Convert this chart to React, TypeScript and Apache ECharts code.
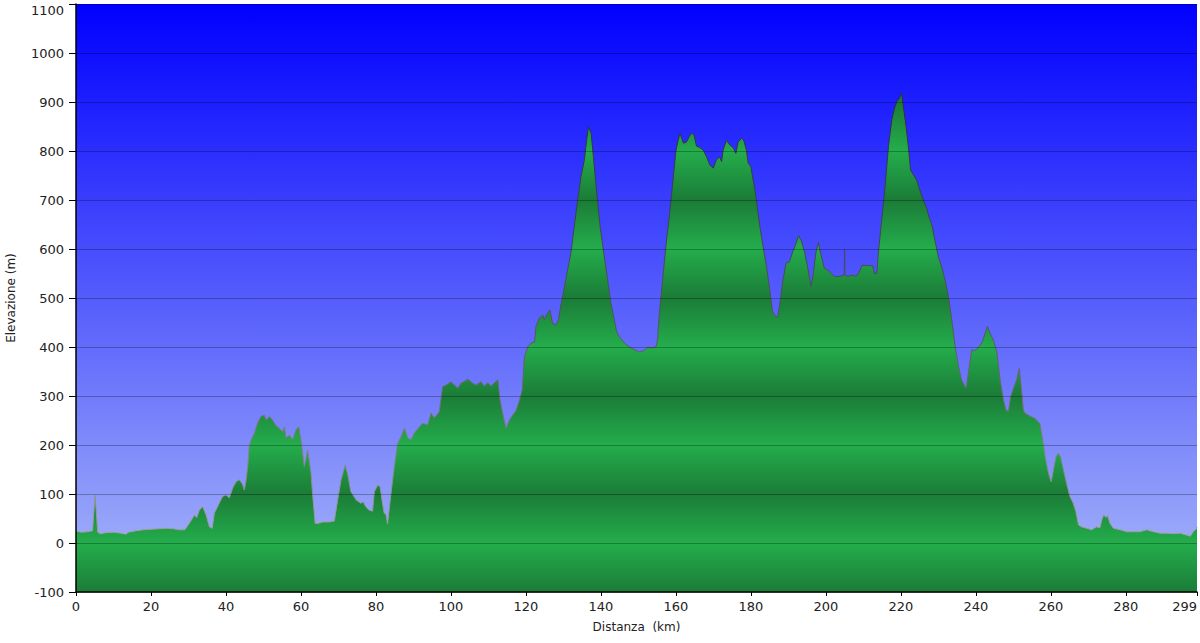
import React, { useEffect, useRef } from "react";
import * as echarts from "echarts";

const distanceKm = [
  0, 1.5, 3, 4.4, 5.1, 5.8, 6.5, 8, 10, 12, 13.3, 14, 16, 18, 20, 22, 24, 26, 27.5, 29,
  30.2, 31.6, 32.2, 32.9, 33.8, 34.7, 35.6, 36.3, 36.9, 38.2, 39.1, 40, 40.9, 41.8, 42.7, 43.6, 44.4, 44.9, 45.3, 45.8,
  46.2, 46.7, 47.6, 48.4, 49.3, 50.2, 50.7, 51.6, 52.4, 53.3, 54.2, 55.1, 55.6, 56.0, 56.9, 57.8, 58.7, 59.4, 60.0, 60.9,
  61.8, 62.2, 62.7, 63.1, 63.8, 64.5, 65.8, 67.6, 68.9, 69.8, 70.7, 71.8, 72.5, 73.3, 74.7, 76.0, 76.6, 77.3, 78.2, 79.1,
  79.6, 80.5, 81.1, 81.6, 82.2, 82.7, 83.1, 84.0, 84.9, 85.8, 86.7, 87.6, 88.5, 89.4, 90.2, 91.6, 92.5, 93.8, 94.7, 95.6,
  96.9, 97.8, 98.7, 100.0, 101.8, 102.7, 104.5, 105.8, 106.7, 108.0, 108.9, 109.8, 110.7, 111.6, 112.5, 113.1, 113.8, 114.7, 115.6, 116.5,
  117.4, 118.3, 119.0, 119.6, 120.5, 121.4, 122.3, 122.7, 123.6, 124.5, 124.9, 125.8, 126.4, 127.1, 128.0, 128.7, 129.4, 130.3, 131.1, 132.0,
  132.9, 133.8, 134.7, 135.6, 136.2, 136.7, 137.4, 138.0, 138.9, 139.8, 140.9, 141.8, 142.7, 143.6, 144.2, 144.9, 146.3, 147.6, 148.9, 150.3,
  151.6, 152.5, 153.4, 154.7, 155.1, 155.6, 156.5, 157.4, 158.3, 159.1, 160.0, 160.6, 161.1, 162.0, 162.8, 163.6, 164.2, 164.8, 165.5, 166.4,
  167.3, 168.2, 169.1, 170.0, 170.8, 171.7, 172.2, 172.6, 173.5, 174.4, 175.3, 176.0, 176.6, 177.5, 178.1, 178.8, 179.3, 180.0, 181.1, 182.4,
  183.2, 184.1, 185.0, 185.8, 186.6, 187.2, 187.8, 188.5, 189.4, 190.3, 191.2, 191.9, 192.7, 193.4, 194.3, 195.2, 196.1, 196.7, 197.4, 198.0,
  198.7, 199.6, 200.5, 201.4, 202.3, 203.6, 204.9, 205.0, 205.1, 205.8, 207.2, 208.1, 209.0, 209.7, 211.2, 212.5, 213.0, 213.6, 214.0, 214.9,
  215.8, 216.7, 217.6, 218.2, 218.9, 219.6, 220.2, 220.7, 221.4, 222.0, 222.6, 223.4, 224.2, 225.1, 226.0, 226.9, 227.6, 228.2, 229.1, 230.0,
  230.9, 231.8, 232.7, 233.6, 234.5, 235.4, 236.2, 237.4, 238.0, 238.9, 239.8, 240.7, 241.6, 242.5, 243.1, 243.8, 244.7, 245.6, 246.5, 247.4,
  248.1, 248.7, 249.3, 250.2, 250.9, 251.6, 252.2, 252.7, 253.1, 254.5, 255.8, 257.1, 258.0, 258.5, 259.4, 260.1, 260.7, 261.4, 262.0, 262.6,
  263.4, 264.2, 265.1, 266.0, 266.7, 267.4, 268.2, 269.6, 270.9, 272.2, 273.1, 273.6, 274.1, 274.8, 275.1, 275.8, 276.7, 278.5, 280.3, 282.1,
  283.8, 285.6, 287.4, 289.2, 290.9, 292.7, 294.5, 296.3, 297.2, 298.0, 298.9, 299,
];

const elevationM = [
  24, 22, 23, 25, 98, 22, 19, 21, 22, 20, 18, 22, 25, 27, 28, 29, 30, 29, 27, 27,
  40, 57, 52, 67, 74, 57, 33, 30, 61, 81, 95, 98, 92, 112, 125, 129, 120, 108, 125, 156,
  197, 210, 224, 244, 258, 261, 251, 258, 251, 240, 234, 227, 237, 214, 220, 211, 231, 237, 211, 156,
  190, 169, 142, 100, 40, 40, 43, 43, 45, 88, 129, 159, 139, 105, 88, 81, 84, 74, 67, 65,
  105, 118, 115, 88, 61, 58, 39, 100, 156, 203, 217, 234, 214, 211, 224, 237, 244, 241, 265, 255,
  268, 319, 322, 329, 316, 326, 334, 326, 322, 329, 320, 327, 320, 327, 333, 292, 265, 234, 251, 261,
  271, 292, 312, 380, 400, 408, 410, 442, 459, 465, 456, 469, 476, 448, 445, 456, 489, 523, 557, 591,
  646, 700, 748, 782, 823, 850, 836, 789, 714, 646, 585, 537, 489, 455, 431, 421, 408, 400, 395, 390,
  393, 400, 398, 400, 414, 470, 540, 610, 670, 730, 800, 822, 836, 816, 818, 830, 836, 834, 810, 807,
  802, 788, 771, 765, 782, 788, 778, 802, 822, 812, 807, 795, 818, 826, 822, 802, 775, 768, 720, 646,
  608, 567, 520, 472, 462, 462, 493, 534, 571, 574, 595, 608, 627, 618, 595, 561, 523, 554, 595, 613,
  588, 561, 557, 550, 544, 544, 547, 600, 547, 544, 547, 544, 554, 567, 566, 566, 550, 550, 591, 659,
  727, 809, 864, 884, 901, 907, 919, 890, 850, 809, 761, 751, 741, 720, 700, 683, 663, 652, 618, 584,
  563, 537, 503, 455, 400, 360, 333, 316, 346, 394, 393, 400, 408, 428, 442, 428, 414, 390, 333, 292,
  271, 269, 299, 319, 333, 356, 312, 271, 265, 259, 254, 244, 203, 176, 142, 125, 149, 176, 183, 176,
  149, 122, 95, 81, 64, 37, 33, 30, 27, 33, 31, 47, 57, 52, 57, 40, 30, 27, 23, 23,
  23, 27, 23, 20, 20, 19, 20, 16, 14, 23, 30, 32,
];

const Y_MIN = -100;
const Y_MAX = 1100;
const Y_STEP = 100;
const X_MIN = 0;
const X_MAX = 299;
const X_STEP = 20;

const FONT = "DejaVu Sans, Verdana, sans-serif";
const GREEN_LIGHT = "#24ad4c";
const GREEN_DARK = "#1b7c37";

export default function App() {
  const ref = useRef<HTMLDivElement>(null);

  useEffect(() => {
    if (!ref.current) return;
    const chart = echarts.init(ref.current, null, { renderer: "svg" });
    const data = distanceKm.map((d, i) => [d, elevationM[i]]);

    chart.setOption({
      animation: false,
      grid: {
        left: 76,
        right: 3,
        top: 4,
        bottom: 51,
        containLabel: false,
        outerBoundsMode: "none",
        show: true,
        borderWidth: 0,
        backgroundColor: {
          type: "linear",
          x: 0,
          y: 0,
          x2: 0,
          y2: 1,
          colorStops: [
            { offset: 0, color: "#0000ff" },
            { offset: 1, color: "#aab9f9" },
          ],
        },
      },
      xAxis: {
        type: "value",
        min: X_MIN,
        max: X_MAX,
        interval: X_STEP,
        z: 3,
        name: "Distanza  (km)",
        nameLocation: "middle",
        nameGap: 29,
        nameTextStyle: { fontFamily: FONT, fontSize: 12, color: "#222" },
        axisLine: { show: true, onZero: false, lineStyle: { color: "#000", width: 1.5 } },
        axisTick: { show: true, length: 4, lineStyle: { color: "#000" } },
        axisLabel: {
          fontFamily: FONT,
          fontSize: 13,
          color: "#222",
          margin: 8,
          alignMaxLabel: "right",
          formatter: (v: number) => String(v),
        },
        splitLine: { show: false },
      },
      yAxis: {
        type: "value",
        min: Y_MIN,
        max: Y_MAX,
        interval: Y_STEP,
        z: 3,
        name: "Elevazione (m)",
        nameLocation: "middle",
        nameGap: 59,
        nameTextStyle: { fontFamily: FONT, fontSize: 12, color: "#222" },
        axisLine: { show: true, onZero: false, lineStyle: { color: "#000", width: 1.5 } },
        axisTick: { show: true, length: 7, lineStyle: { color: "#000" } },
        axisLabel: {
          fontFamily: FONT,
          fontSize: 13,
          color: "#222",
          margin: 12,
          verticalAlignMaxLabel: "top",
          formatter: (v: number) => String(v),
        },
        splitLine: { show: true, lineStyle: { color: "rgba(0,0,0,0.28)", width: 1 } },
      },
      series: [
        {
          type: "line",
          data,
          showSymbol: false,
          symbol: "none",
          smooth: false,
          lineStyle: { width: 1, color: "#444" },
          areaStyle: { origin: "start", color: GREEN_LIGHT, opacity: 1 },
          z: 2,
        },
      ],
    });

    const yTop = chart.convertToPixel({ yAxisIndex: 0 }, Y_MAX) as number;
    const yBot = chart.convertToPixel({ yAxisIndex: 0 }, Y_MIN) as number;
    const stops: { offset: number; color: string }[] = [];
    for (let v = Y_MAX; v >= Y_MIN; v -= Y_STEP) {
      const even = Math.abs(Math.round(v / Y_STEP)) % 2 === 0;
      stops.push({ offset: (Y_MAX - v) / (Y_MAX - Y_MIN), color: even ? GREEN_LIGHT : GREEN_DARK });
    }

    chart.setOption({
      series: [
        {
          areaStyle: {
            color: { type: "linear", x: 0, y: yTop, x2: 0, y2: yBot, global: true, colorStops: stops },
          },
          lineStyle: {
            color: {
              type: "linear",
              x: 0,
              y: yTop,
              x2: 0,
              y2: yBot,
              global: true,
              colorStops: [
                { offset: 0, color: "#1c1c30" },
                { offset: 0.55, color: "#55555e" },
                { offset: 1, color: "#b4b4b4" },
              ],
            },
          },
        },
      ],
    });

    return () => chart.dispose();
  }, []);

  return (
    <div
      ref={ref}
      style={{ position: "fixed", left: 0, top: 0, width: 1200, height: 643, background: "#fff" }}
    />
  );
}
